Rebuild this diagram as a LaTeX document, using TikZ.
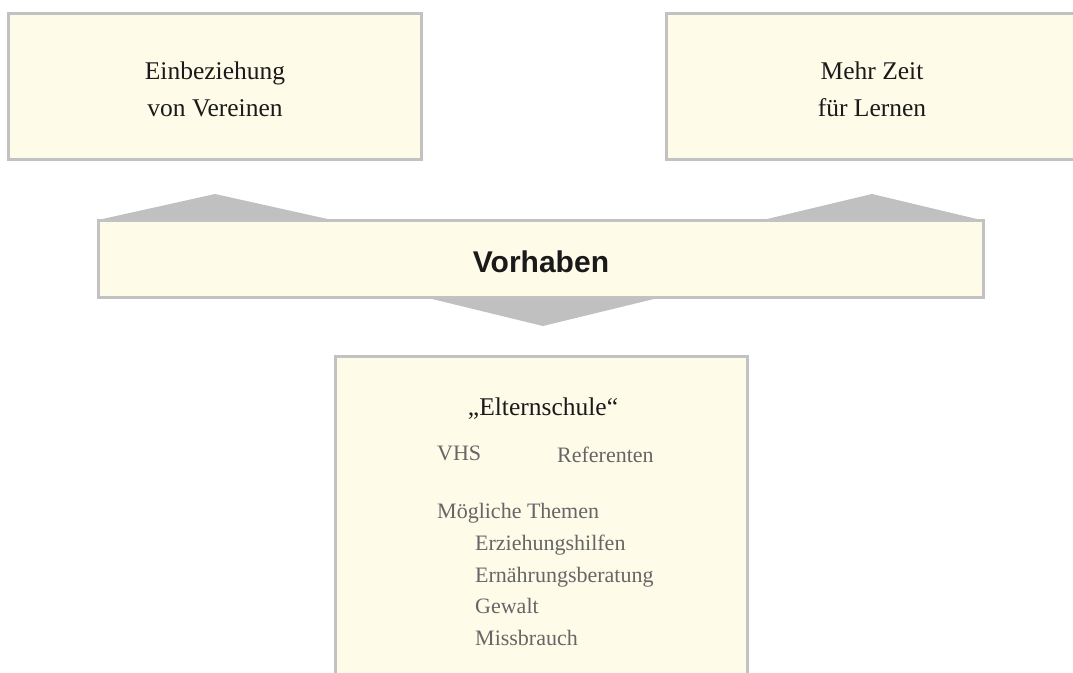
\documentclass[tikz,border=0pt]{standalone}
\usepackage{fontspec}
\setmainfont{Liberation Serif}
\setsansfont{Liberation Sans}
\definecolor{cream}{HTML}{FEFBE9}
\definecolor{edgegray}{HTML}{C2C2C2}
\definecolor{tipgray}{HTML}{C0C0C0}
\definecolor{txtgray}{HTML}{666666}
\definecolor{txtdark}{HTML}{1A1A1A}
\begin{document}
\begin{tikzpicture}[x=1bp,y=-1bp,
  box/.style={draw=edgegray, line width=3bp, fill=cream, inner sep=0pt, outer sep=0pt},
  headtxt/.style={anchor=base, inner sep=0pt, text=txtdark, font=\fontsize{25.5bp}{30bp}\selectfont},
  graytxt/.style={anchor=base west, inner sep=0pt, text=txtgray, font=\fontsize{22bp}{26bp}\selectfont},
  maintxt/.style={anchor=base, inner sep=0pt, text=txtdark, font=\sffamily\bfseries\fontsize{30bp}{34bp}\selectfont},
  tip/.style={fill=tipgray}]
\useasboundingbox (0,0) rectangle (1073,673);
\clip (0,0) rectangle (1073,673);
% arrow-like wedges behind the central box
\coordinate (l1) at (98,220);  \coordinate (l2) at (215,194); \coordinate (l3) at (332,220);
\coordinate (r1) at (763,220); \coordinate (r2) at (872,194); \coordinate (r3) at (981,220);
\coordinate (b1) at (428,298); \coordinate (b2) at (543,326); \coordinate (b3) at (658,298);
\fill[tip] (l1) -- (l2) -- (l3) -- cycle;
\fill[tip] (r1) -- (r2) -- (r3) -- cycle;
\fill[tip] (b1) -- (b2) -- (b3) -- cycle;
% boxes
\node[box, minimum width=412bp, minimum height=146bp] (ein) at (215,86.5) {};
\node[box, minimum width=412bp, minimum height=146bp] (mehr) at (872,86.5) {};
\node[box, minimum width=885bp, minimum height=77bp] (vorh) at (541,259) {};
\node[box, minimum width=412bp, minimum height=360bp, anchor=north] (eltern) at (541.5,356.5) {};
% texts
\node[headtxt] (t1) at (215,80) {Einbeziehung};
\node[headtxt] (t2) at (215,117) {von Vereinen};
\node[headtxt] (t3) at (872,80) {Mehr Zeit};
\node[headtxt] (t4) at (872,117) {für Lernen};
\node[maintxt] (t5) at (541,272) {Vorhaben};
\node[headtxt] (t6) at (543,415) {„Elternschule“};
\node[graytxt] (g1) at (437,460) {VHS};
\node[graytxt] (g2) at (557,462) {Referenten};
\node[graytxt] (g3) at (437,518) {Mögliche Themen};
\node[graytxt] (g4) at (475,550) {Erziehungshilfen};
\node[graytxt] (g5) at (475,582) {Ernährungsberatung};
\node[graytxt] (g6) at (475,613) {Gewalt};
\node[graytxt] (g7) at (475,645) {Missbrauch};
\end{tikzpicture}
\end{document}
